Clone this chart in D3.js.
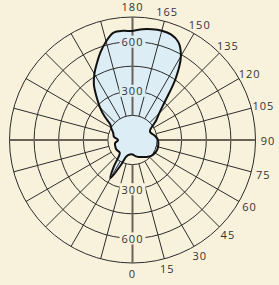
<!DOCTYPE html>
<html>
<head>
<meta charset="utf-8">
<script src="https://cdn.jsdelivr.net/npm/d3@7"></script>
<style>
  html, body { margin: 0; padding: 0; background: #f8f1dc; }
  svg { display: block; }
  text { font-family: "Open Sans", "Noto Sans", sans-serif; font-size: 11px; fill: #333; letter-spacing: 1px; }
</style>
</head>
<body>
<svg id="chart"></svg>
<script>
const WIDTH = 279;
const HEIGHT = 285;

// pattern, angle in degrees (0 = bottom, going round through 90 on the right)
const angles = [0, 10, 20, 30, 40, 50, 60, 70, 80, 90, 100, 105, 110, 115, 120, 125, 130, 135,
    140, 145, 150, 155, 160, 165, 170, 175, 180, 185, 190, 195, 200, 205, 210, 215, 220,
    225, 230, 235, 240, 250, 260, 270, 280, 290, 300, 315, 320, 325, 330, 335, 340, 350];
const values = [88, 100, 110, 120, 135, 150, 158, 162, 160, 155, 140, 130, 122, 118, 125, 150, 190, 230,
    310, 460, 590, 660, 685, 690, 686, 678, 665, 668, 665, 622, 570, 515, 465, 410, 340,
    280, 220, 165, 150, 125, 115, 88, 108, 112, 114, 110, 130, 200, 270, 170, 105, 90];

const ringValues = [150, 300, 450, 600, 750];
const ringLabels = [300, 600];
const angleTicks = d3.range(0, 360, 15);
const angleLabels = d3.range(0, 181, 15);

const RMAX = 750;

function main(){
    const cx = 132.5, cy = 140, R = 123;

    const svg = d3.select("#chart")
        .attr("width", WIDTH)
        .attr("height", HEIGHT);

    const r = d3.scaleLinear().domain([0, RMAX]).range([0, R]);
    const rad = d => (180 - d) * Math.PI / 180; // lineRadial angle

    const g = svg.append("g").attr("transform", "translate(" + cx + "," + cy + ")");

    const pts = angles.map((a, i) => [rad(a), r(values[i])]);
    const line = d3.lineRadial().curve(d3.curveCatmullRomClosed.alpha(0.5));

    // fill first
    g.append("path")
        .attr("d", line(pts))
        .attr("fill", "#dcedf5")
        .attr("stroke", "none");

    // mask so the grid breaks round the value labels
    const mask = svg.append("defs").append("mask").attr("id", "gridmask");
    mask.append("rect").attr("x", -cx).attr("y", -cy).attr("width", WIDTH).attr("height", HEIGHT).attr("fill", "white");
    ringLabels.forEach(v => {
        [-1, 1].forEach(s => {
            mask.append("rect")
                .attr("x", -13).attr("y", s * r(v) - 6)
                .attr("width", 26).attr("height", 12)
                .attr("fill", "black");
        });
    });

    const grid = g.append("g").attr("mask", "url(#gridmask)");

    grid.selectAll("circle")
        .data(ringValues)
        .enter()
        .append("circle")
        .attr("r", d => r(d))
        .attr("fill", "none")
        .attr("stroke", "#2b2b2b")
        .attr("stroke-width", 1);

    grid.selectAll("line")
        .data(angleTicks)
        .enter()
        .append("line")
        .attr("x1", d => r(ringValues[0]) * Math.sin(d * Math.PI / 180))
        .attr("y1", d => r(ringValues[0]) * Math.cos(d * Math.PI / 180))
        .attr("x2", d => R * Math.sin(d * Math.PI / 180))
        .attr("y2", d => R * Math.cos(d * Math.PI / 180))
        .attr("stroke", d => d % 90 === 0 ? "#6a6259" : "#2b2b2b")
        .attr("stroke-width", d => d % 90 === 0 ? 2 : 1);

    // outline on top
    g.append("path")
        .attr("d", line(pts))
        .attr("fill", "none")
        .attr("stroke", "#111")
        .attr("stroke-width", 2)
        .attr("stroke-linejoin", "round");

    // value labels, top and bottom
    ringLabels.forEach(v => {
        [-1, 1].forEach(s => {
            g.append("text")
                .attr("x", 0).attr("y", s * r(v))
                .attr("text-anchor", "middle")
                .attr("dominant-baseline", "central")
                .text(v);
        });
    });

    // angle labels
    const LR = R + 10.5;
    g.selectAll("text.ang")
        .data(angleLabels)
        .enter()
        .append("text")
        .attr("class", "ang")
        .attr("x", d => (LR + 2 * Math.abs(Math.sin(d * Math.PI / 180))) * Math.sin(d * Math.PI / 180))
        .attr("y", d => LR * Math.cos(d * Math.PI / 180))
        .attr("text-anchor", "middle")
        .attr("dominant-baseline", "central")
        .text(d => d);
}

window.addEventListener("load", main);
</script>
</body>
</html>
